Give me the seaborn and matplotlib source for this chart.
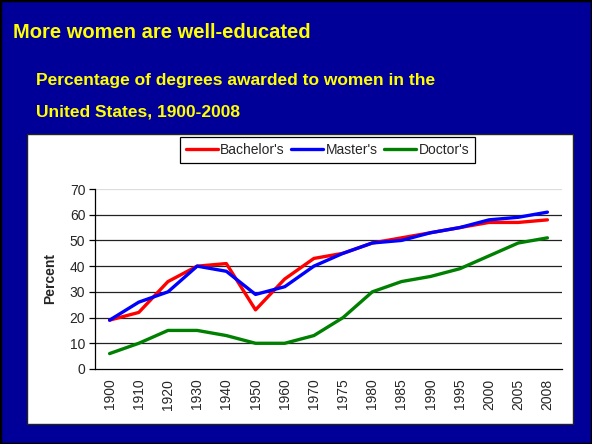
import numpy as np
import pandas as pd
import seaborn as sns
import matplotlib.pyplot as plt
from matplotlib.patches import Rectangle

# Data
years = ["1900", "1910", "1920", "1930", "1940", "1950", "1960", "1970",
         "1975", "1980", "1985", "1990", "1995", "2000", "2005", "2008"]
bachelors = [19, 22, 34, 40, 41, 23, 35, 43, 45, 49, 51, 53, 55, 57, 57, 58]
masters = [19, 26, 30, 40, 38, 29, 32, 40, 45, 49, 50, 53, 55, 58, 59, 61]
doctors = [6, 10, 15, 15, 13, 10, 10, 13, 20, 30, 34, 36, 39, 44, 49, 51]
series_names = ["Bachelor's", "Master's", "Doctor's"]
series_colors = ["#FF0000", "#0000FF", "#008000"]

df = pd.DataFrame({
    "Year": years * 3,
    "Percent": bachelors + masters + doctors,
    "Degree": np.repeat(series_names, len(years)),
})

sns.set_style("white")
plt.rcParams["font.family"] = ["Liberation Sans", "DejaVu Sans"]

W, H = 592, 444
fig = plt.figure(figsize=(W / 100, H / 100), dpi=100)
navy = "#000099"
fig.patch.set_facecolor(navy)

# outer frame and white panel (behind the axes)
fig.patches.append(Rectangle((0, 0), 1, 1, transform=fig.transFigure,
                             facecolor="none", edgecolor="black", lw=2.5, zorder=-2))
fig.patches.append(Rectangle((27 / W, 1 - 424 / H), (573 - 27) / W, (424 - 134) / H,
                             transform=fig.transFigure, facecolor="white",
                             edgecolor="#222222", lw=1, zorder=-1))

# titles
fig.text(13 / W, 1 - 33 / H, "More women are well-educated", color="#FFFF00",
         fontsize=14.5, fontweight="bold", va="center", ha="left")
fig.text(36 / W, 1 - 81 / H, "Percentage of degrees awarded to women in the",
         color="#FFFF00", fontsize=12.5, fontweight="bold", va="center", ha="left")
fig.text(36 / W, 1 - 112 / H, "United States, 1900-2008",
         color="#FFFF00", fontsize=12.5, fontweight="bold", va="center", ha="left")

ax = fig.add_axes([95 / W, 1 - 369 / H, (562 - 95) / W, (369 - 189) / H])
ax.set_facecolor("white")

sns.lineplot(data=df, x="Year", y="Percent", hue="Degree", palette=series_colors,
             linewidth=2.4, ax=ax, sort=False, legend=True)

ax.set_xlim(-0.5, len(years) - 0.5)
ax.set_ylim(0, 70)
ax.set_yticks(range(0, 71, 10))
ax.set_xlabel("")
ax.set_ylabel("Percent", fontsize=10, fontweight="bold", labelpad=9)

# gridlines
for v in range(10, 70, 10):
    ax.axhline(v, color="#222222", lw=0.9, zorder=0)
ax.axhline(70, color="#dddddd", lw=0.9, zorder=0)

for s in ["top", "right"]:
    ax.spines[s].set_visible(False)
for s in ["left", "bottom"]:
    ax.spines[s].set_color("black")
    ax.spines[s].set_linewidth(0.9)

# ticks: labels centered, tick marks between categories
ax.set_xticks(range(len(years)))
ax.set_xticklabels(years, rotation=90)
ax.set_xticks(np.arange(-0.5, len(years), 1), minor=True)
ax.tick_params(axis="x", which="major", length=0, pad=7, labelsize=10)
ax.tick_params(axis="x", which="minor", length=4, width=0.9, direction="out", color="black")
ax.tick_params(axis="y", length=4, width=0.9, direction="out", color="black",
               labelsize=10, left=True, pad=3)

# legend
handles, labels = ax.get_legend_handles_labels()
ax.legend(handles, labels, loc="center", bbox_to_anchor=(327.5 / W, 1 - 150 / H),
          bbox_transform=fig.transFigure, ncol=3, frameon=True, fancybox=False,
          edgecolor="black", fontsize=10, handlelength=2.3, handletextpad=0.15,
          columnspacing=0.5, borderpad=0.4, framealpha=1)
ax.get_legend().get_frame().set_linewidth(0.9)

fig.savefig("out.png", dpi=100, facecolor=fig.get_facecolor())
